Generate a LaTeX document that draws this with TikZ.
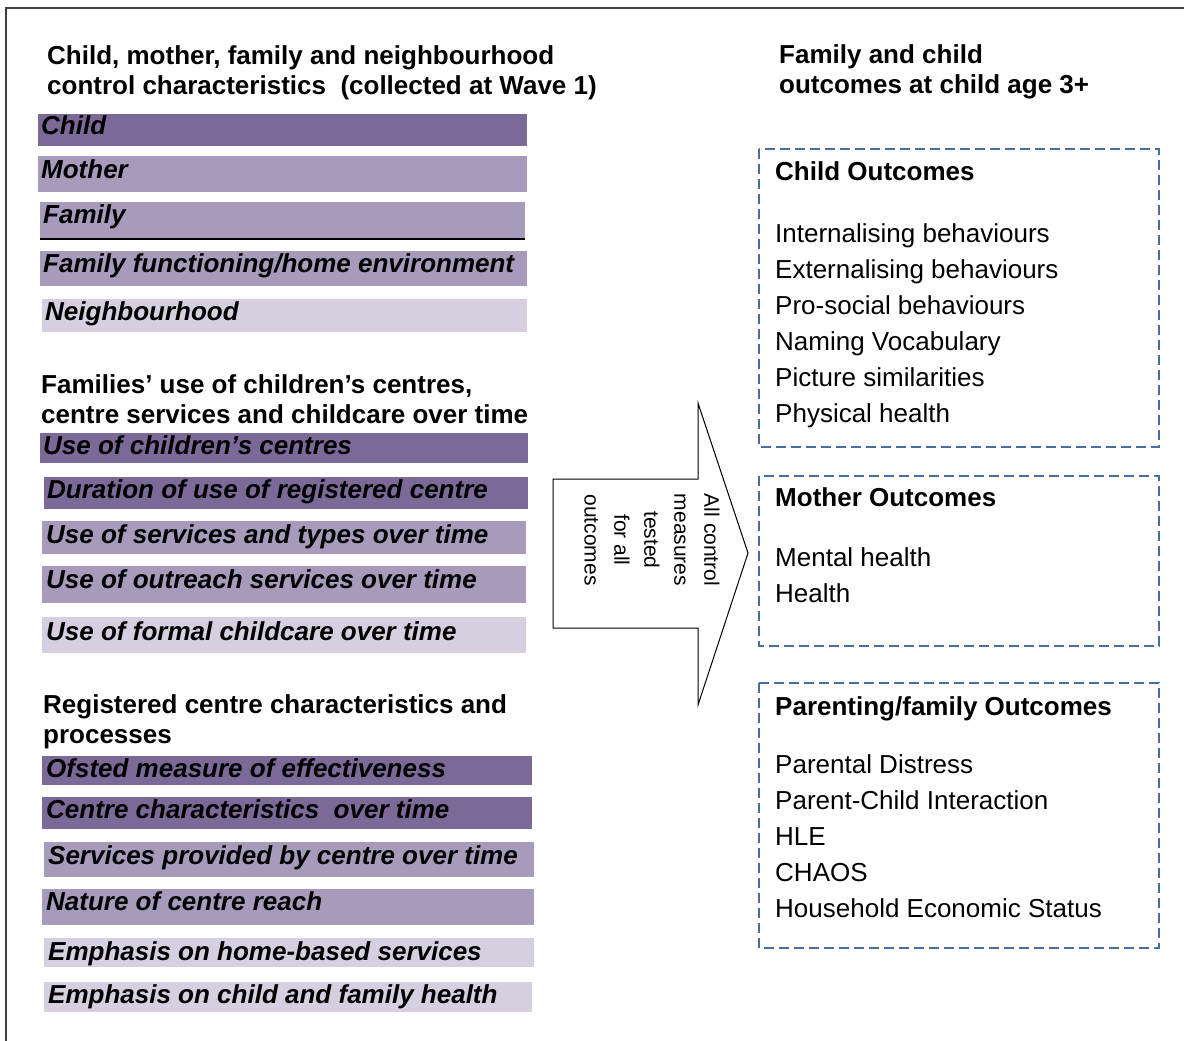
\documentclass[tikz,border=0pt]{standalone}
\usepackage{fontspec}
\setmainfont{Liberation Sans}
\usepackage{tikz}
\definecolor{darkbar}{HTML}{7B6A98}
\definecolor{midbar}{HTML}{A69BBB}
\definecolor{lightbar}{HTML}{D5CFE0}
\definecolor{dashblue}{HTML}{4A6C9F}

\begin{document}
\begin{tikzpicture}[x=1pt, y=-1pt,
    heading/.style={anchor=base west, align=left, inner sep=0pt, font=\fontsize{26}{30}\selectfont\bfseries},
    bartext/.style={anchor=base west, inner sep=0pt, font=\fontsize{26}{30}\selectfont\bfseries\itshape},
    outbox/.style={draw=dashblue, dash pattern=on 10pt off 5pt, line width=1.3pt},
    outitems/.style={anchor=base west, align=left, inner sep=0pt, font=\fontsize{26}{36}\selectfont}]
                \useasboundingbox (0,0) rectangle (1184,1041);
                \draw[line width=1.5pt, black!75] (6,1060) -- (6,8) -- (1200,8);

                % control characteristics (multi-line nodes sit on their last baseline)
                \node[heading] (CtrlHead) at (47,95) {Child, mother, family and neighbourhood\\control characteristics\ \ (collected at Wave 1)};
                \fill[darkbar] (38,114) rectangle (527,146);
                \node[bartext] (Child) at (41,135) {Child};
                \fill[midbar] (38,156) rectangle (527,192);
                \node[bartext] (Mother) at (41,178) {Mother};
                \fill[midbar] (40,202) rectangle (525,239);
                \draw[line width=2pt] (40,239) -- (525,239);
                \node[bartext] (Family) at (43,223) {Family};
                \fill[midbar] (40,251) rectangle (527,286);
                \node[bartext] (HomeEnv) at (43,272) {Family functioning/home environment};
                \fill[lightbar] (42,299) rectangle (527,332);
                \node[bartext] (Neighb) at (45,320) {Neighbourhood};

                % use of centres
                \node[heading] (UseHead) at (41,423) {Families’ use of children’s centres,\\centre services and childcare over time};
                \fill[darkbar] (40,433) rectangle (528,463);
                \node[bartext] (UseCentres) at (43,454) {Use of children’s centres};
                \fill[darkbar] (44,477) rectangle (528,509);
                \node[bartext] (Duration) at (47,498) {Duration of use of registered centre};
                \fill[midbar] (42,521) rectangle (526,554);
                \node[bartext] (UseServices) at (46,543) {Use of services and types over time};
                \fill[midbar] (42,566) rectangle (526,603);
                \node[bartext] (UseOutreach) at (46,588) {Use of outreach services over time};
                \fill[lightbar] (42,617) rectangle (526,653);
                \node[bartext] (UseChildcare) at (46,640) {Use of formal childcare over time};

                % registered centre
                \node[heading] (CentreHead) at (43,743) {Registered centre characteristics and\\processes};
                \fill[darkbar] (42,756) rectangle (532,785);
                \node[bartext] (Ofsted) at (46,777) {Ofsted measure of effectiveness};
                \fill[darkbar] (42,797) rectangle (532,829);
                \node[bartext] (CentreChar) at (46,818) {Centre characteristics\ \ over time};
                \fill[midbar] (44,842) rectangle (534,877);
                \node[bartext] (Provided) at (48,864) {Services provided by centre over time};
                \fill[midbar] (42,889) rectangle (534,925);
                \node[bartext] (Reach) at (46,910) {Nature of centre reach};
                \fill[lightbar] (44,938) rectangle (534,967);
                \node[bartext] (HomeBased) at (48,960) {Emphasis on home-based services};
                \fill[lightbar] (44,982) rectangle (532,1012);
                \node[bartext] (Health) at (48,1003) {Emphasis on child and family health};

                % big arrow
                \draw[line width=1pt] (553,479) -- (698,479) -- (698,403) -- (748,553) -- (698,705) -- (698,628) -- (553,628) -- cycle;
                \node[rotate=-90, align=center, inner sep=0pt, font=\fontsize{21}{30}\selectfont] (Tested) at (652,540) {All control\\measures\\tested\\for all\\outcomes};

                % outcomes
                \node[heading] (OutHead) at (779,93) {Family and child\\outcomes at child age 3+};

                \draw[outbox] (759,149) rectangle (1159,447);
                \node[heading] (ChildOut) at (775,180) {Child Outcomes};
                \node[outitems] (ChildList) at (775,422) {Internalising behaviours\\Externalising behaviours\\Pro-social behaviours\\Naming Vocabulary\\Picture similarities\\Physical health};

                \draw[outbox] (759,476) rectangle (1159,646);
                \node[heading] (MotherOut) at (775,506) {Mother Outcomes};
                \node[outitems] (MotherList) at (775,602) {Mental health\\Health};

                \draw[outbox] (759,683) rectangle (1159,948);
                \node[heading] (ParentOut) at (775,715) {Parenting/family Outcomes};
                \node[outitems] (ParentList) at (775,917) {Parental Distress\\Parent-Child Interaction\\HLE\\CHAOS\\Household Economic Status};
            \end{tikzpicture}
\end{document}
